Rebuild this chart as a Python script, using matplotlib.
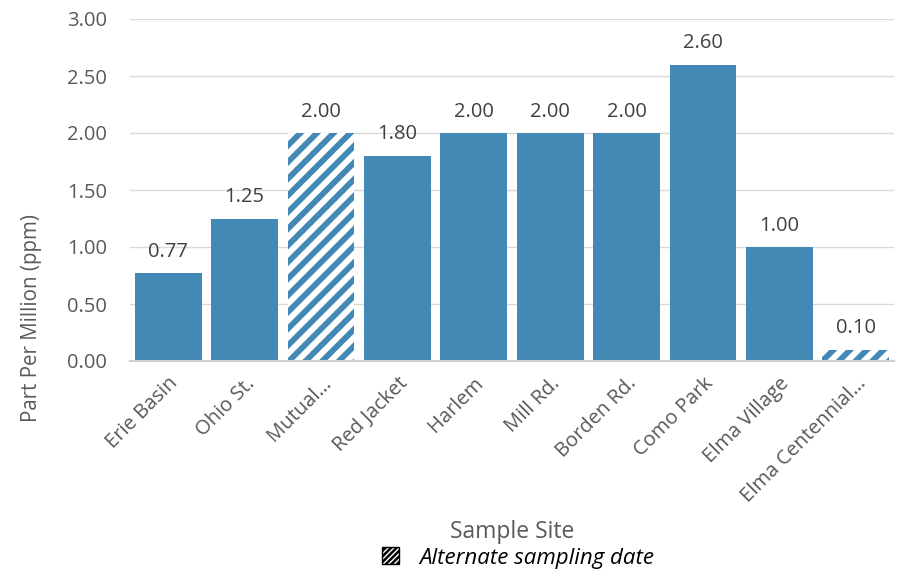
import matplotlib
matplotlib.use("Agg")
import matplotlib.pyplot as plt
from matplotlib.patches import Patch

plt.rcParams['font.family'] = ['Open Sans', 'DejaVu Sans']
plt.rcParams['hatch.linewidth'] = 4.2

sites = ["Erie Basin", "Ohio St.", "Mutual…", "Red Jacket", "Harlem", "Mill Rd.",
         "Borden Rd.", "Como Park", "Elma Village", "Elma Centennial…"]
values = [0.77, 1.25, 2.00, 1.80, 2.00, 2.00, 2.00, 2.60, 1.00, 0.10]
alternate = [False, False, True, False, False, False, False, False, False, True]
yticks = [0.0, 0.5, 1.0, 1.5, 2.0, 2.5, 3.0]

BLUE = "#4289B5"
TXT = "#595959"

fig = plt.figure(figsize=(9.02, 5.76), dpi=100)
ax = fig.add_axes([130/902, 1-361/576, (894-130)/902, (361-19)/576])

x = range(len(sites))
for i, (v, alt) in enumerate(zip(values, alternate)):
    if alt:
        ax.bar(i, v, width=0.875, facecolor="white", edgecolor=BLUE, hatch="//", linewidth=0, zorder=2)
    else:
        ax.bar(i, v, width=0.875, color=BLUE, linewidth=0, zorder=2)
    ax.text(i, v + 0.1, f"{v:.2f}", ha="center", va="bottom", fontsize=14.5, color="#404040")

ax.set_xlim(-0.5, len(sites) - 0.5)
ax.set_ylim(0, 3.0)
ax.set_yticks(yticks)
ax.set_yticklabels([f"{t:.2f}" for t in yticks], fontsize=14.5, color=TXT)
ax.set_xticks(list(x))
ax.set_xticklabels(sites, rotation=45, ha="right", va="top", rotation_mode="anchor",
                   fontsize=14.5, color=TXT)
ax.tick_params(axis="both", length=0)
ax.tick_params(axis="x", pad=9)
ax.tick_params(axis="y", pad=16.5)
ax.grid(axis="y", color="#D9D9D9", linewidth=1, zorder=0)
for s in ["top", "right", "left"]:
    ax.spines[s].set_visible(False)
ax.spines["bottom"].set_color("#D0D0D0")
ax.spines["bottom"].set_linewidth(1.5)
ax.spines["bottom"].set_zorder(3)

fig.text(32/902, 1-318/576, "Part Per Million (ppm)", rotation=90, ha="center", va="center",
         fontsize=14.8, color=TXT)
fig.text(512/902, 1-532/576, "Sample Site", ha="center", va="center", fontsize=16.5, color=TXT)

handle = Patch(facecolor="white", edgecolor="black", hatch="//////", linewidth=1.0)
leg = fig.legend(handles=[handle], labels=["Alternate sampling date"],
                 loc="center", bbox_to_anchor=(518/902, 1-558/576), frameon=False,
                 handlelength=0.8, handleheight=0.8, handletextpad=0.9,
                 prop={"style": "italic", "size": 16})
for t in leg.get_texts():
    t.set_color("black")
for h in leg.legend_handles:
    if hasattr(h, "set_hatch_linewidth"):
        h.set_hatch_linewidth(1.8)
    else:
        h._hatch_linewidth = 1.8

fig.savefig("out.png", dpi=100)
